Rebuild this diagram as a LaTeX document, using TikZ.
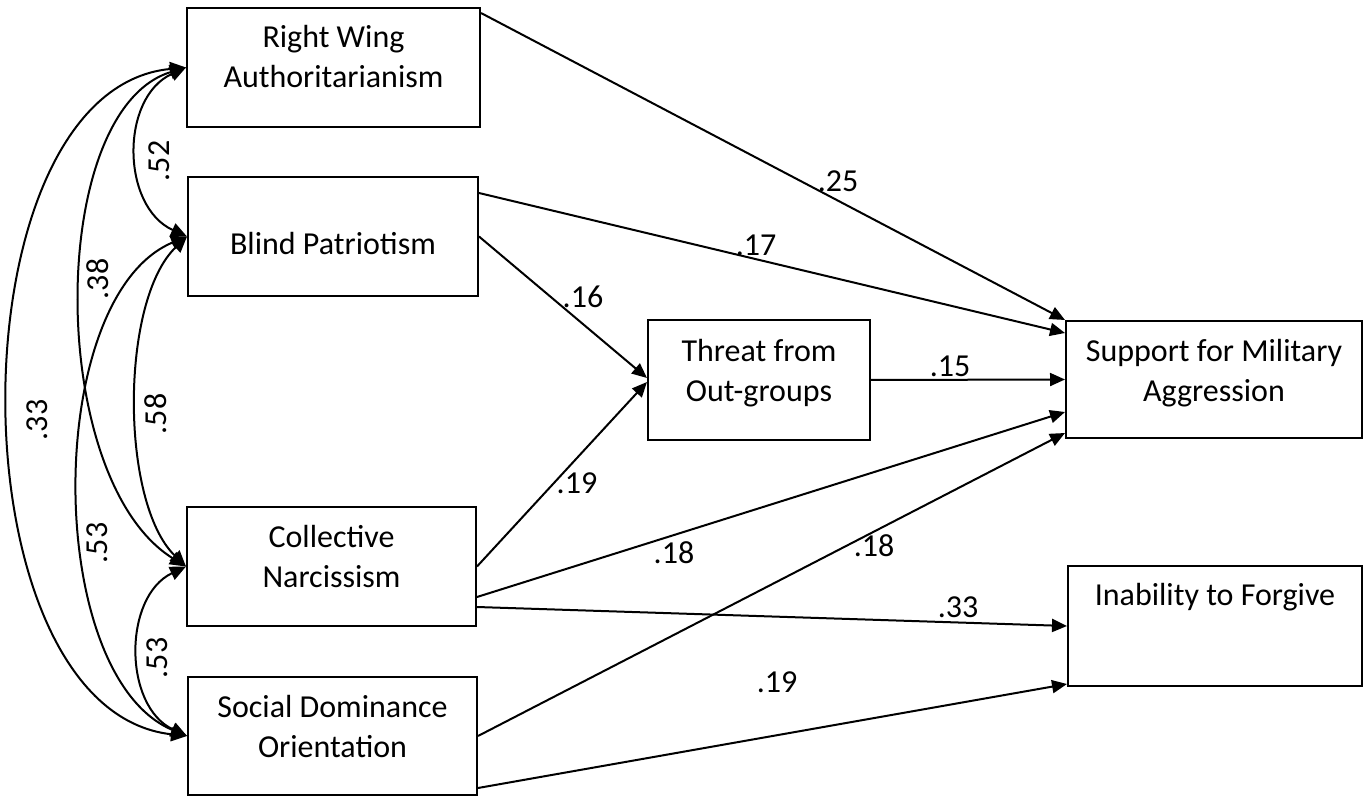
\documentclass[tikz,border=0pt]{standalone}
\usepackage{fontspec}
\setmainfont{Carlito}
\usetikzlibrary{arrows.meta}
\begin{document}
\begin{tikzpicture}[x=1pt,y=-1pt,
  box/.style={draw, line width=2pt, rectangle, inner sep=0pt},
  txt/.style={align=center, inner sep=0pt, font=\fontsize{32}{40}\selectfont},
  lbl/.style={inner sep=0pt, font=\fontsize{32}{40}\selectfont},
  arr/.style={line width=2pt, -{Triangle[length=15pt,width=13pt]}},
  covar/.style={line width=2pt, {Triangle[length=16pt,width=14pt]}-{Triangle[length=16pt,width=14pt]}}]
\useasboundingbox (0,0) rectangle (1363,799);

% boxes
\node[box, minimum width=293pt, minimum height=119pt] (rwa) at (333.5,67.5) {};
\node[box, minimum width=290pt, minimum height=119pt] (bp) at (333,236.5) {};
\node[box, minimum width=289pt, minimum height=119pt] (cn) at (331.5,566.5) {};
\node[box, minimum width=289pt, minimum height=118pt] (sdo) at (332.5,736) {};
\node[box, minimum width=222pt, minimum height=120pt] (thr) at (759,380) {};
\node[box, minimum width=296pt, minimum height=117pt] (sma) at (1214,379.5) {};
\node[box, minimum width=294pt, minimum height=120pt] (ifg) at (1215,626) {};

% box texts
\node[txt] (rwat) at (333.5,56.8) {Right Wing\\Authoritarianism};
\node[txt] (bpt) at (333,243.8) {Blind Patriotism};
\node[txt] (thrt) at (759,372.8) {Threat from\\Out-groups};
\node[txt] (smat) at (1214,373) {Support for Military\\Aggression};
\node[txt] (cnt) at (331.5,556.8) {Collective\\Narcissism};
\node[txt] (sdot) at (332.5,726.8) {Social Dominance\\Orientation};
\node[txt] (ifgt) at (1215,597) {Inability to Forgive};

% paths
\draw[arr] ([yshift=-6pt]rwa.north east) -- (sma.north west);
\draw[arr] ([yshift=-17pt]bp.north east) -- ([yshift=-13pt]sma.north west);
\draw[arr] (bp.east) -- ([yshift=2pt]thr.west);
\draw[arr] (cn.east) -- ([yshift=-2pt]thr.west);
\draw[arr] (thr.east) -- (sma.west);
\draw[arr] ([yshift=-30.5pt]cn.east) -- ([yshift=-32.5pt]sma.west);
\draw[arr] (sdo.east) -- ([yshift=6pt]sma.south west);
\draw[arr] ([yshift=-40.5pt]cn.east) -- (ifg.west);
\draw[arr] ([yshift=8pt]sdo.south east) -- ([yshift=3pt]ifg.south west);

% covariances
\draw[covar] (rwa.west) .. controls +(-66,30) and +(-66,-30) .. (bp.west);
\draw[covar] (rwa.west) .. controls +(-140,42) and +(-140,-87) .. (cn.west);
\draw[covar] (rwa.west) .. controls +(-236,22) and +(-237,-26) .. (sdo.west);
\draw[covar] (bp.west) .. controls +(-67,64) and +(-66,-64) .. (cn.west);
\draw[covar] (bp.west) .. controls +(-144,60) and +(-144,-60) .. (sdo.west);
\draw[covar] (cn.west) .. controls +(-63,30) and +(-64,-30) .. (sdo.west);

% path labels
\node[lbl] (l25) at (838,181) {.25};
\node[lbl] (l17) at (756,245) {.17};
\node[lbl] (l16) at (583,297) {.16};
\node[lbl] (l19a) at (577,483) {.19};
\node[lbl] (l15) at (950,366) {.15};
\node[lbl] (l18a) at (674,553) {.18};
\node[lbl] (l18b) at (874,546) {.18};
\node[lbl] (l33b) at (958,607) {.33};
\node[lbl] (l19b) at (777,682) {.19};

% covariance labels
\node[lbl, rotate=90] (l52) at (159,161) {.52};
\node[lbl, rotate=90] (l38) at (98,279) {.38};
\node[lbl, rotate=90] (l33a) at (37,420) {.33};
\node[lbl, rotate=90] (l58) at (156,414) {.58};
\node[lbl, rotate=90] (l53a) at (97,543) {.53};
\node[lbl, rotate=90] (l53b) at (157,658) {.53};
\end{tikzpicture}
\end{document}
